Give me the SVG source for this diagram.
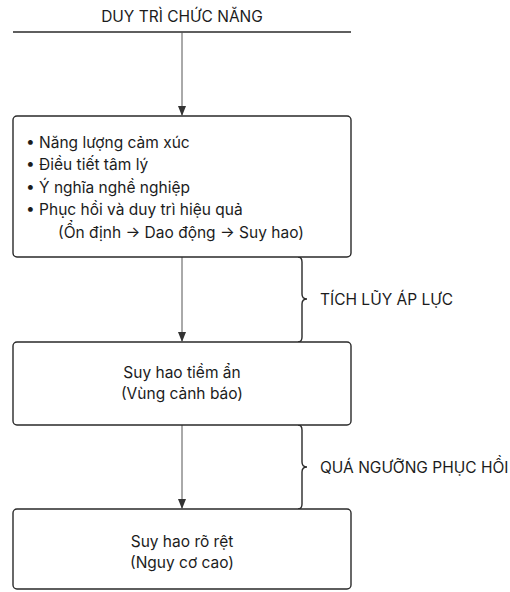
<svg xmlns="http://www.w3.org/2000/svg" width="510" height="592" viewBox="0 0 510 592">
<defs>
<style>
text{font-family:Inter,"Noto Sans","Liberation Sans",sans-serif;fill:#1c1c1c;font-size:15.5px}
.box{fill:#fff;stroke:#2a2a2a;stroke-width:1.4}
.conn{stroke:#555;stroke-width:1;fill:none}
.brace{stroke:#2a2a2a;stroke-width:1.4;fill:none}
.c{text-anchor:middle}
</style>
<marker id="ah" markerWidth="10" markerHeight="12" refX="9" refY="5" orient="auto" markerUnits="userSpaceOnUse">
<path d="M0,1 L10,5 L0,9 Z" fill="#333"/>
</marker>
</defs>
<rect width="510" height="592" fill="#fff"/>
<g id="header">
<text class="c" x="182" y="22">DUY TRÌ CHỨC NĂNG</text>
<line x1="13" y1="32" x2="351" y2="32" stroke="#2a2a2a" stroke-width="1.4"/>
</g>
<g id="connectors">
<line class="conn" x1="182" y1="32" x2="182" y2="115" marker-end="url(#ah)"/>
<line class="conn" x1="182" y1="257" x2="182" y2="341" marker-end="url(#ah)"/>
<line class="conn" x1="182" y1="425" x2="182" y2="508" marker-end="url(#ah)"/>
<path class="brace" d="M298,257 Q302,257 302,262 L302,294 Q302,299 307,299 Q302,299 302,304 L302,337 Q302,342 298,342"/>
<path class="brace" d="M298,425 Q302,425 302,430 L302,462 Q302,467 307,467 Q302,467 302,472 L302,504 Q302,509 298,509"/>
<text x="320" y="304.5">TÍCH LŨY ÁP LỰC</text>
<text x="320" y="472.5">QUÁ NGƯỠNG PHỤC HỒI</text>
</g>
<g id="node1">
<rect class="box" x="13" y="116" width="338" height="141" rx="4"/>
<text x="26" y="148">• Năng lượng cảm xúc</text>
<text x="26" y="170">• Điều tiết tâm lý</text>
<text x="26" y="193">• Ý nghĩa nghề nghiệp</text>
<text x="26" y="215">• Phục hồi và duy trì hiệu quả</text>
<text x="58" y="238">(Ổn định → Dao động → Suy hao)</text>
</g>
<g id="node2">
<rect class="box" x="13" y="342" width="338" height="83" rx="4"/>
<text class="c" x="182" y="378">Suy hao tiềm ẩn</text>
<text class="c" x="182" y="399">(Vùng cảnh báo)</text>
</g>
<g id="node3">
<rect class="box" x="13" y="509" width="338" height="80" rx="4"/>
<text class="c" x="182" y="547">Suy hao rõ rệt</text>
<text class="c" x="182" y="568">(Nguy cơ cao)</text>
</g>
</svg>
